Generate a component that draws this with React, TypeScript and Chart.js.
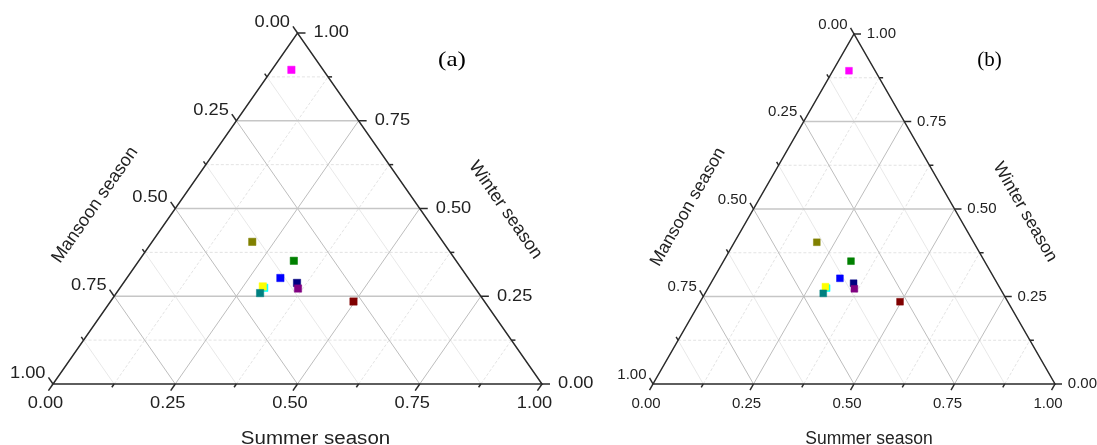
import { useEffect, useRef } from "react";
import { Chart, registerables } from "chart.js";

Chart.register(...registerables);

// ---- data (shares of each sample per season) ----
const sampleNames = ["P1", "P2", "P3", "P4", "P5", "P6", "P7", "P8", "P9", "P10"];
const summerShare = [0.04, 0.205, 0.317, 0.314, 0.355, 0.365, 0.295, 0.29, 0.294, 0.497];
const winterShare = [0.895, 0.405, 0.351, 0.302, 0.288, 0.272, 0.274, 0.278, 0.259, 0.235];
const mansoonShare = [0.065, 0.39, 0.332, 0.384, 0.357, 0.363, 0.431, 0.432, 0.447, 0.268];
const sampleColors = [
  "#ff00ff",
  "#808000",
  "#008000",
  "#0000ff",
  "#000080",
  "#800080",
  "#00ffff",
  "#ffff00",
  "#008080",
  "#800000",
];

const majorTicks = [0, 0.25, 0.5, 0.75, 1];
const minorTicks = [0.125, 0.375, 0.625, 0.875];
const gridMajor = [0.25, 0.5, 0.75];

const axisTitles = { bottom: "Summer season", left: "Mansoon season", right: "Winter season" };
const panelLetters = ["(a)", "(b)"];

type PanelCfg = {
  letter: string;
  padding: { left: number; right: number; top: number; bottom: number };
  tickFont: number;
  titleFont: number;
  letterFont: number;
  sx: number;
  majorLen: number;
  minorLen: number;
  bottomDx: number;
  bottomDy: number;
  rightDx: number;
  leftDx: number;
  leftDy: number;
  summerTitle: [number, number];
  mansoonTitle: [number, number];
  winterTitle: [number, number];
  letterPos: [number, number];
  pointRadius: number;
};

const panels: PanelCfg[] = [
  {
    letter: panelLetters[0],
    padding: { left: 53, right: 555, top: 33, bottom: 61 },
    tickFont: 16,
    titleFont: 18,
    letterFont: 22,
    sx: 1.14,
    majorLen: 8,
    minorLen: 4,
    bottomDx: -7.5,
    bottomDy: 19.5,
    rightDx: 16,
    leftDx: -7.5,
    leftDy: -10.5,
    summerTitle: [315.5, 444],
    mansoonTitle: [95, 205],
    winterTitle: [505.5, 210],
    letterPos: [452, 60],
    pointRadius: 5.2,
  },
  {
    letter: panelLetters[1],
    padding: { left: 653, right: 42, top: 34, bottom: 61 },
    tickFont: 15,
    titleFont: 17.5,
    letterFont: 21,
    sx: 1,
    majorLen: 7,
    minorLen: 4,
    bottomDx: -7,
    bottomDy: 20,
    rightDx: 12.8,
    leftDx: -6.5,
    leftDy: -9.5,
    summerTitle: [869, 444],
    mansoonTitle: [688, 207],
    winterTitle: [1025, 212],
    letterPos: [989.5, 60],
    pointRadius: 4.8,
  },
];

function drawText(
  ctx: CanvasRenderingContext2D,
  text: string,
  x: number,
  y: number,
  align: CanvasTextAlign,
  baseline: CanvasTextBaseline,
  font: string,
  sx: number,
  rot = 0,
  color = "#222"
) {
  ctx.save();
  ctx.translate(x, y);
  if (rot) ctx.rotate(rot);
  ctx.scale(sx, 1);
  ctx.font = font;
  ctx.fillStyle = color;
  ctx.textAlign = align;
  ctx.textBaseline = baseline;
  ctx.fillText(text, 0, 0);
  ctx.restore();
}

const ternaryPlugin = {
  id: "ternary",
  beforeDatasetsDraw(chart: any) {
    const cfg: PanelCfg = chart.options.plugins.ternary.cfg;
    const ctx: CanvasRenderingContext2D = chart.ctx;
    const xs = chart.scales.x;
    const ys = chart.scales.y;
    const P = (x: number, y: number) => [xs.getPixelForValue(x), ys.getPixelForValue(y)];
    const line = (a: number[], b: number[]) => {
      ctx.beginPath();
      ctx.moveTo(a[0], a[1]);
      ctx.lineTo(b[0], b[1]);
      ctx.stroke();
    };
    ctx.save();
    // minor grid
    minorTicks.forEach((t) => {
      ctx.lineWidth = 0.8;
      ctx.strokeStyle = "#dcdcdc";
      ctx.setLineDash([3, 2]);
      // constant winter (horizontal)
      line(P(t / 2, t), P(1 - t / 2, t));
      // constant summer
      line(P(t, 0), P((1 + t) / 2, 1 - t));
      ctx.setLineDash([]);
      ctx.strokeStyle = "#e2e2e2";
      // constant mansoon
      line(P(1 - t, 0), P((1 - t) / 2, 1 - t));
    });
    // major grid
    gridMajor.forEach((t) => {
      ctx.setLineDash([]);
      ctx.strokeStyle = "#c6c6c6";
      ctx.lineWidth = 1.4;
      line(P(t / 2, t), P(1 - t / 2, t));
      ctx.strokeStyle = "#bdbdbd";
      ctx.lineWidth = 1;
      line(P(t, 0), P((1 + t) / 2, 1 - t));
      line(P(1 - t, 0), P((1 - t) / 2, 1 - t));
    });
    // triangle edges
    const A = P(0, 0);
    const B = P(1, 0);
    const C = P(0.5, 1);
    ctx.strokeStyle = "#2a2a2a";
    ctx.lineWidth = 1.5;
    ctx.beginPath();
    ctx.moveTo(A[0], A[1]);
    ctx.lineTo(B[0], B[1]);
    ctx.lineTo(C[0], C[1]);
    ctx.closePath();
    ctx.stroke();

    const Wpx = B[0] - A[0];
    const Hpx = A[1] - C[1];
    const dl = Math.hypot(0.5 * Wpx, Hpx);
    const bottomDir = [(-0.5 * Wpx) / dl, Hpx / dl];
    const leftDir = [(-0.5 * Wpx) / dl, -Hpx / dl];
    const tick = (p: number[], d: number[], len: number) => line(p, [p[0] + d[0] * len, p[1] + d[1] * len]);

    const allTicks = [
      ...majorTicks.map((t) => [t, cfg.majorLen]),
      ...minorTicks.map((t) => [t, cfg.minorLen]),
    ];
    allTicks.forEach(([t, len]) => {
      tick(P(t, 0), bottomDir, len);
      tick(P(1 - t / 2, t), [1, 0], len);
      tick(P((1 - t) / 2, 1 - t), leftDir, len);
    });

    const tf = `${cfg.tickFont}px "Liberation Sans", Arial, sans-serif`;
    majorTicks.forEach((t) => {
      const lbl = t.toFixed(2);
      const b = P(t, 0);
      drawText(ctx, lbl, b[0] + cfg.bottomDx, b[1] + cfg.bottomDy, "center", "middle", tf, cfg.sx);
      const r = P(1 - t / 2, t);
      drawText(ctx, lbl, r[0] + cfg.rightDx, r[1], "left", "middle", tf, cfg.sx);
      const l = P((1 - t) / 2, 1 - t);
      drawText(ctx, lbl, l[0] + cfg.leftDx, l[1] + cfg.leftDy, "right", "middle", tf, cfg.sx);
    });

    const ttf = `${cfg.titleFont}px "Liberation Sans", Arial, sans-serif`;
    const edgeAngle = Math.atan2(Hpx, 0.5 * Wpx);
    drawText(ctx, axisTitles.bottom, cfg.summerTitle[0], cfg.summerTitle[1], "center", "alphabetic", ttf, cfg.sx);
    drawText(ctx, axisTitles.left, cfg.mansoonTitle[0], cfg.mansoonTitle[1], "center", "middle", ttf, 1, -edgeAngle);
    drawText(ctx, axisTitles.right, cfg.winterTitle[0], cfg.winterTitle[1], "center", "middle", ttf, 1, edgeAngle);
    drawText(
      ctx,
      cfg.letter,
      cfg.letterPos[0],
      cfg.letterPos[1],
      "center",
      "middle",
      `${cfg.letterFont}px "Liberation Serif", "Times New Roman", serif`,
      cfg.sx,
      0,
      "#000"
    );
    ctx.restore();
  },
};

function makePoints() {
  return sampleNames.map((_, i) => {
    const s = summerShare[i];
    const w = winterShare[i];
    const m = mansoonShare[i];
    const sum = s + w + m;
    return { x: (s + w / 2) / sum, y: w / sum };
  });
}

function Panel({ cfg }: { cfg: PanelCfg }) {
  const ref = useRef<HTMLCanvasElement | null>(null);
  useEffect(() => {
    if (!ref.current) return;
    const chart = new Chart(ref.current, {
      type: "scatter",
      data: {
        datasets: [
          {
            label: "samples",
            data: makePoints(),
            pointStyle: "rect",
            pointRadius: cfg.pointRadius,
            pointHoverRadius: cfg.pointRadius,
            backgroundColor: sampleColors,
            borderColor: sampleColors,
            borderWidth: 0.5,
            clip: false as any,
          },
        ],
      },
      options: {
        animation: false,
        responsive: false,
        devicePixelRatio: 1,
        layout: { padding: cfg.padding },
        scales: {
          x: { type: "linear", min: 0, max: 1, display: false },
          y: { type: "linear", min: 0, max: 1, display: false },
        },
        plugins: {
          legend: { display: false },
          tooltip: { enabled: false },
          ternary: { cfg },
        } as any,
      },
      plugins: [ternaryPlugin],
    });
    return () => chart.destroy();
  }, [cfg]);
  return (
    <canvas
      ref={ref}
      width={1097}
      height={445}
      style={{ position: "absolute", left: 0, top: 0, width: 1097, height: 445 }}
    />
  );
}

export default function App() {
  return (
    <div
      style={{
        position: "fixed",
        left: 0,
        top: 0,
        width: 1097,
        height: 445,
        background: "#fff",
        overflow: "hidden",
      }}
    >
      {panels.map((p) => (
        <Panel key={p.letter} cfg={p} />
      ))}
    </div>
  );
}
